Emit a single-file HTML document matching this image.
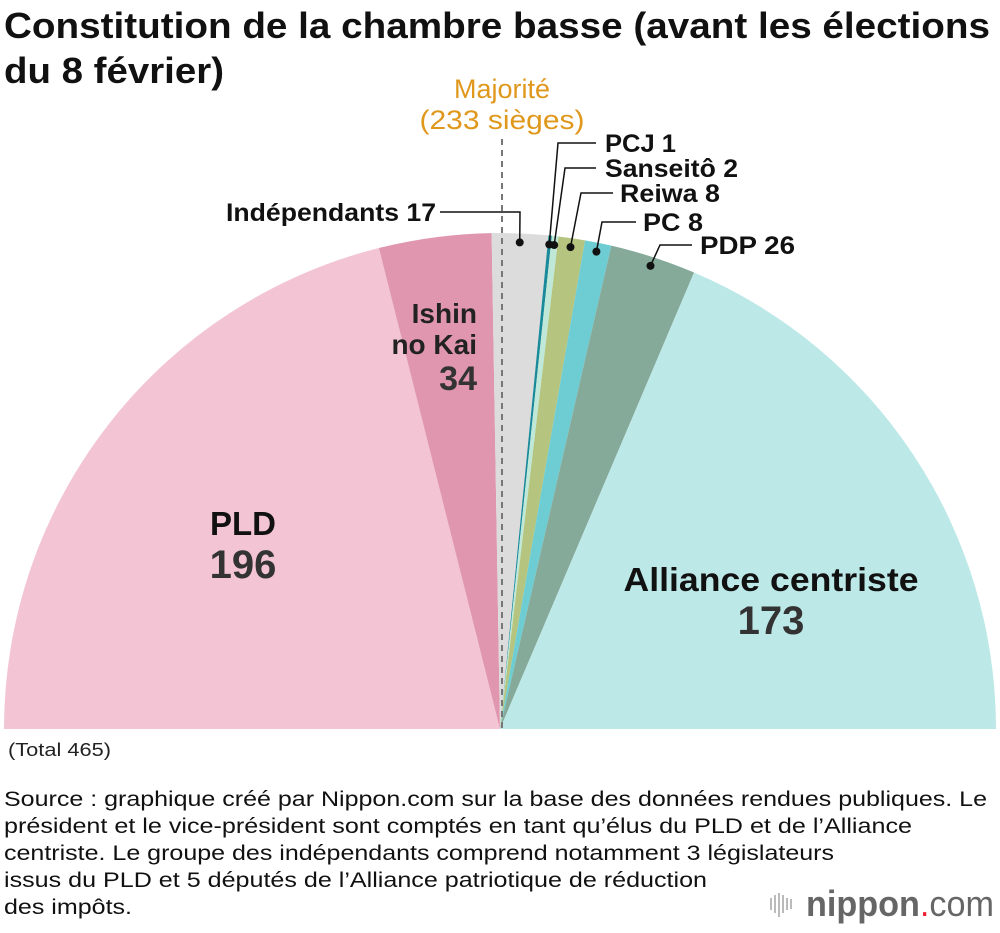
<!DOCTYPE html>
<html><head><meta charset="utf-8"><style>
body{margin:0;background:#fff;font-family:"Liberation Sans",sans-serif}
svg text{font-family:"Liberation Sans",sans-serif}
</style></head><body>
<svg id="c" width="1000" height="928" viewBox="0 0 1000 928">
<text x="4" y="38" font-size="36" font-weight="bold" fill="#111" textLength="986" lengthAdjust="spacingAndGlyphs">Constitution de la chambre basse (avant les élections</text>
<text x="4" y="83" font-size="36" font-weight="bold" fill="#111" textLength="220" lengthAdjust="spacingAndGlyphs">du 8 février)</text>
<g id="wedges"></g>
<line x1="502" y1="139" x2="502" y2="729" stroke="#777" stroke-width="2" stroke-dasharray="6,5"/>
<text x="502" y="98" font-size="27" fill="#e0981c" text-anchor="middle">Majorité</text>
<text x="502" y="129" font-size="27" fill="#e0981c" text-anchor="middle" textLength="165" lengthAdjust="spacingAndGlyphs">(233 sièges)</text>
<g id="labels"></g>
<text x="477" y="323" font-size="28" font-weight="bold" fill="#222" text-anchor="end">Ishin</text>
<text x="477" y="354" font-size="28" font-weight="bold" fill="#222" text-anchor="end">no Kai</text>
<text x="477" y="390" font-size="34" font-weight="bold" fill="#333" text-anchor="end">34</text>
<text x="243" y="535" font-size="33" font-weight="bold" fill="#111" text-anchor="middle">PLD</text>
<text x="243" y="578" font-size="40" font-weight="bold" fill="#333" text-anchor="middle">196</text>
<text x="771" y="591" font-size="33" font-weight="bold" fill="#111" text-anchor="middle" textLength="295" lengthAdjust="spacingAndGlyphs">Alliance centriste</text>
<text x="771" y="634" font-size="40" font-weight="bold" fill="#333" text-anchor="middle">173</text>
<text x="8" y="756" font-size="18" fill="#222" textLength="103" lengthAdjust="spacingAndGlyphs">(Total 465)</text>
<g font-size="21" fill="#111">
<text x="4" y="806" textLength="983" lengthAdjust="spacingAndGlyphs">Source : graphique créé par Nippon.com sur la base des données rendues publiques. Le</text>
<text x="4" y="833" textLength="908" lengthAdjust="spacingAndGlyphs">président et le vice-président sont comptés en tant qu’élus du PLD et de l’Alliance</text>
<text x="4" y="860" textLength="830" lengthAdjust="spacingAndGlyphs">centriste. Le groupe des indépendants comprend notamment 3 législateurs</text>
<text x="4" y="887" textLength="703" lengthAdjust="spacingAndGlyphs">issus du PLD et 5 députés de l’Alliance patriotique de réduction</text>
<text x="4" y="914" textLength="128" lengthAdjust="spacingAndGlyphs">des impôts.</text>
</g>
<g>
<g stroke="#bbb" stroke-width="2"><line x1="771" y1="898" x2="771" y2="910"/><line x1="775" y1="895" x2="775" y2="913"/><line x1="779" y1="893" x2="779" y2="917"/><line x1="783" y1="895" x2="783" y2="913"/><line x1="787" y1="898" x2="787" y2="910"/><line x1="791" y1="899" x2="791" y2="909"/></g>
<text x="806" y="916" font-size="36" fill="#666" textLength="188" lengthAdjust="spacingAndGlyphs"><tspan font-weight="bold">nippon</tspan><tspan fill="#e23">.</tspan><tspan>com</tspan></text>
</g>
</svg>
<script>
const parties=["PLD","Ishin no Kai","Indépendants","PCJ","Sanseitô","Reiwa","PC","PDP","Alliance centriste"];
const seats=[196,34,17,1,2,8,8,26,173];
const colors=["#f2c4d4","#e096ae","#dcdcdc","#1a8a9a","#bfe8d8","#b5c47e","#6dcdd2","#86aa9a","#bde8e8"];
const calloutNames=["Indépendants 17","PCJ 1","Sanseitô 2","Reiwa 8","PC 8","PDP 26"];
const cx=500,cy=729,R=496;
const total=seats.reduce((a,b)=>a+b,0);
const ang=s=>Math.PI*(1-s/total);
const pt=(a,r)=>[cx+r*Math.cos(a),cy-r*Math.sin(a)];
const NS="http://www.w3.org/2000/svg";
const wg=document.getElementById('wedges');
let cum=0;const mids=[];
seats.forEach((v,i)=>{
  const a0=ang(cum),a1=ang(cum+v);cum+=v;mids.push((a0+a1)/2);
  const p0=pt(a0,R),p1=pt(a1,R);
  const p=document.createElementNS(NS,'path');
  p.setAttribute('d',`M${cx},${cy}L${p0[0]},${p0[1]}A${R},${R} 0 0 1 ${p1[0]},${p1[1]}Z`);
  p.setAttribute('fill',colors[i]);
  
  
  wg.appendChild(p);
});
// callouts: [partyIndex, cornerX, cornerY, lineEndX, textX, anchor, textWidth]
const lg=document.getElementById('labels');
const co=[[2,520,212,440,436,'end',210],[3,558,143,596,605,'start',71],[4,565,168,596,605,'start',133],[5,581,193,613,620,'start',100],[6,602,222,636,643,'start',60],[7,660,245,692,700,'start',95]];
co.forEach((c,k)=>{
  const d=pt(mids[c[0]],R-9);
  const l=document.createElementNS(NS,'polyline');
  l.setAttribute('points',`${d[0]},${d[1]} ${c[1]},${c[2]} ${c[3]},${c[2]}`);
  l.setAttribute('fill','none');l.setAttribute('stroke','#111');l.setAttribute('stroke-width','1.5');
  
  
  lg.appendChild(l);
  const ci=document.createElementNS(NS,'circle');
  ci.setAttribute('cx',d[0]);ci.setAttribute('cy',d[1]);ci.setAttribute('r',4);ci.setAttribute('fill','#111');
  
  
  lg.appendChild(ci);
  const t=document.createElementNS(NS,'text');
  t.setAttribute('x',c[4]);t.setAttribute('y',c[2]+9);t.setAttribute('font-size','25');t.setAttribute('font-weight','bold');
  t.setAttribute('fill','#111');t.setAttribute('text-anchor',c[5]);
  t.setAttribute('textLength',c[6]);t.setAttribute('lengthAdjust','spacingAndGlyphs');
  t.textContent=calloutNames[k];
  
  
  lg.appendChild(t);
});
</script>
</body></html>
